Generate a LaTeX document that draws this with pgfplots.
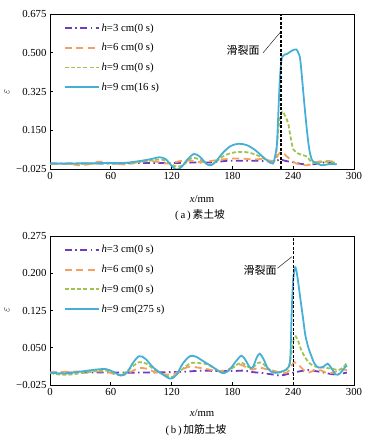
\documentclass[border=0pt]{standalone}
\usepackage{pgfplots}
\pgfplotsset{compat=1.18}
\usepackage{fontspec}
\setmainfont{Liberation Serif}
\newfontfamily\cjk{Noto Sans CJK SC}
\definecolor{cblue}{RGB}{70,175,215}
\definecolor{corange}{RGB}{245,160,95}
\definecolor{cgreen}{RGB}{160,195,80}
\definecolor{cpurple}{RGB}{110,60,190}
\pgfplotsset{
  every axis/.append style={
    scale only axis, width=304bp, anchor=south west,
    xmin=0, xmax=300, axis line style={black, line width=0.8pt},
    xtick={0,60,120,180,240,300},
    xticklabels={0,60,120,180,240,300},
    tick align=inside, xtick pos=left, ytick pos=left,
    major tick length=3bp, tick style={black, line width=0.7pt},
    ticklabel style={font=\fontsize{10.8}{12}\selectfont},
    legend style={draw=none, fill=none, font=\fontsize{10.8}{12}\selectfont,
      at={(rel axis cs:0.035,0.965)}, anchor=north west, row sep=6.8bp},
    legend cell align=left,
    legend image code/.code={\draw[#1] (0bp,0bp) -- (34bp,0bp);},
  },
  purp/.style={color=cpurple, line width=1.8pt, dash pattern=on 7bp off 3.5bp on 1.5bp off 3.5bp},
  oran/.style={color=corange, line width=1.8pt, dash pattern=on 7bp off 4.5bp},
  gree/.style={color=cgreen, line width=1.8pt, dash pattern=on 4bp off 2.2bp},
  blu/.style={color=cblue, line width=1.8pt},
}
\begin{document}
\begin{tikzpicture}
\useasboundingbox (0,0) rectangle (381bp,445bp);
% ---------- (a) ----------
\begin{axis}[at={(50bp,276bp)}, height=155bp,
  ymin=-0.025, ymax=0.675,
  ytick={-0.025,0.15,0.325,0.5,0.675},
  yticklabels={−0.025,0.150,0.325,0.500,0.675}]
\addplot[purp, smooth, tension=0.5] coordinates {
(0,0.000)(30,0.000)(60,0.000)(90,0.002)(120,0.002)(140,0.004)(160,0.005)(175,0.012)(190,0.012)(205,0.012)(215,0.010)(222,0.010)(227,0.018)(232,0.012)(240,0.005)(248,-0.002)(256,-0.006)(262,-0.002)(270,0.004)(277,0.003)(283,0.002)};
\addlegendentry{\textit{h}=3 cm(0 s)}
\addplot[oran, smooth, tension=0.5] coordinates {
(0,-0.002)(10,-0.003)(20,-0.002)(28,-0.008)(38,-0.004)(48,0.008)(55,0.005)(65,-0.002)(75,-0.004)(85,0.004)(95,0.012)(105,0.008)(113,0.000)(120,0.002)(130,0.012)(140,0.012)(150,0.005)(160,0.012)(170,0.018)(180,0.022)(190,0.022)(200,0.018)(210,0.020)(218,0.012)(222,0.015)(226,0.045)(229,0.052)(233,0.035)(238,0.015)(243,0.000)(250,-0.008)(256,-0.006)(262,0.005)(270,0.012)(277,0.010)(283,0.006)};
\addlegendentry{\textit{h}=6 cm(0 s)}
\addplot[gree, smooth, tension=0.5] coordinates {
(0,-0.002)(30,-0.001)(60,0.000)(80,0.003)(95,0.010)(108,0.018)(114,0.012)(120,-0.005)(126,-0.015)(132,-0.005)(138,0.020)(143,0.025)(150,0.012)(157,-0.008)(162,0.000)(170,0.030)(178,0.046)(186,0.052)(195,0.050)(203,0.040)(210,0.025)(216,0.008)(220,0.000)(223,0.040)(226,0.180)(229,0.235)(232,0.215)(235,0.182)(237,0.130)(240,0.065)(245,0.045)(250,0.037)(254,0.030)(257,0.010)(260,0.002)(265,0.005)(270,0.008)(277,0.006)(283,0.004)};
\addlegendentry{\textit{h}=9 cm(0 s)}
\addplot[blu, smooth, tension=0.5] coordinates {
(0,0.000)(20,0.000)(40,0.001)(60,0.002)(75,0.003)(90,0.012)(100,0.020)(108,0.028)(114,0.020)(120,-0.010)(125,-0.028)(130,-0.015)(135,0.015)(142,0.043)(148,0.030)(154,0.000)(158,-0.008)(163,0.005)(170,0.045)(178,0.078)(186,0.089)(194,0.083)(202,0.062)(210,0.030)(216,0.008)(220,0.000)(222,0.030)(224,0.092)(226,0.300)(227,0.392)(229,0.480)(234,0.495)(239,0.510)(243,0.515)(245,0.500)(247,0.467)(250,0.320)(252,0.220)(254.5,0.110)(256.5,0.048)(259,0.012)(263,0.002)(268,-0.008)(273,-0.005)(278,-0.002)(283,-0.004)};
\addlegendentry{\textit{h}=9 cm(16 s)}
\addplot[black, line width=1.4pt, dash pattern=on 3bp off 1.5bp, forget plot] coordinates {(228,-0.025)(228,0.675)};
\draw[black, line width=0.4pt] (axis cs:210.3,0.50) -- (axis cs:227.7,0.595);
\node[font=\cjk\fontsize{11}{12}\selectfont] at (axis cs:190.5,0.51) {滑裂面};
\end{axis}
% ---------- (b) ----------
\begin{axis}[at={(50bp,60bp)}, height=149bp,
  ymin=-0.025, ymax=0.275,
  ytick={-0.025,0.05,0.125,0.2,0.275},
  yticklabels={−0.025,0.050,0.125,0.200,0.275}]
\addplot[purp, smooth, tension=0.5] coordinates {
(0,0.000)(30,0.000)(60,0.000)(90,0.000)(120,0.001)(135,0.002)(150,0.004)(165,0.003)(180,0.003)(192,0.004)(200,0.001)(210,-0.001)(220,-0.004)(228,-0.006)(236,-0.002)(245,0.002)(255,0.005)(265,0.002)(275,-0.002)(282,-0.004)(288,-0.002)(293,0.000)};
\addlegendentry{\textit{h}=3 cm(0 s)}
\addplot[oran, smooth, tension=0.5] coordinates {
(0,0.000)(20,0.002)(40,0.002)(55,0.002)(65,-0.004)(72,-0.005)(80,0.002)(88,0.009)(95,0.008)(105,0.000)(115,-0.004)(122,-0.003)(130,0.006)(138,0.012)(146,0.010)(155,0.007)(165,0.003)(172,0.004)(180,0.010)(188,0.016)(194,0.010)(200,0.006)(207,0.010)(213,0.007)(220,0.004)(228,0.000)(234,0.000)(238,0.012)(241,0.021)(245,0.016)(250,0.006)(255,0.000)(262,0.006)(268,0.004)(275,-0.002)(282,0.002)(288,0.006)(293,0.005)};
\addlegendentry{\textit{h}=6 cm(0 s)}
\addplot[gree, smooth, tension=0.5] coordinates {
(0,-0.001)(10,-0.004)(20,-0.004)(35,0.000)(50,0.004)(58,0.003)(66,-0.004)(72,-0.003)(80,0.010)(88,0.021)(95,0.018)(103,0.006)(112,-0.004)(120,-0.009)(127,0.000)(134,0.013)(141,0.020)(148,0.019)(155,0.017)(162,0.009)(170,0.000)(176,0.003)(183,0.014)(189,0.020)(195,0.012)(200,0.010)(205,0.019)(209,0.020)(214,0.010)(220,0.002)(226,0.000)(230,0.004)(235,0.008)(238,0.035)(241,0.072)(244,0.068)(248,0.045)(252,0.030)(256,0.019)(262,0.012)(270,0.010)(278,0.008)(285,0.005)(290,0.012)(293,0.020)};
\addlegendentry{\textit{h}=9 cm(0 s)}
\addplot[blu, smooth, tension=0.5] coordinates {
(0,0.000)(15,-0.002)(30,0.002)(45,0.006)(55,0.007)(62,0.002)(70,-0.006)(76,0.000)(82,0.020)(88,0.033)(94,0.028)(102,0.010)(110,-0.002)(116,-0.010)(120,-0.012)(125,-0.004)(131,0.018)(138,0.033)(144,0.032)(152,0.022)(160,0.012)(167,0.002)(172,-0.001)(178,0.008)(184,0.024)(189,0.034)(193,0.025)(197,0.011)(200,0.010)(204,0.030)(207,0.038)(211,0.026)(215,0.008)(220,0.000)(225,0.000)(230,0.003)(234,0.008)(237,0.025)(238.5,0.120)(240,0.187)(242,0.212)(244,0.195)(247,0.150)(250,0.105)(252,0.075)(255,0.050)(258,0.033)(261,0.018)(265,0.010)(270,0.012)(274,0.018)(278,0.008)(282,-0.004)(286,-0.002)(290,0.008)(293,0.014)};
\addlegendentry{\textit{h}=9 cm(275 s)}
\addplot[black, line width=1.4pt, dash pattern=on 3bp off 1.5bp, forget plot] coordinates {(240,-0.025)(240,0.275)};
\draw[black, line width=0.4pt] (axis cs:224.4,0.210) -- (axis cs:238.5,0.233);
\node[font=\cjk\fontsize{11}{12}\selectfont] at (axis cs:207.3,0.205) {滑裂面};
\end{axis}
% labels and captions
\node[font=\fontsize{10.8}{12}\selectfont] at (202bp,246bp) {\textit{x}/mm};
\node[font=\fontsize{10.8}{12}\selectfont] at (200bp,230bp) {(\,a\,)\,{\cjk 素土坡}};
\node[font=\fontsize{10.8}{12}\selectfont] at (202bp,32bp) {\textit{x}/mm};
\node[font=\fontsize{10.8}{12}\selectfont] at (196bp,15bp) {(\,b\,)\,{\cjk 加筋土坡}};
\node[rotate=90, font=\fontsize{11}{12}\selectfont] at (7bp,353bp) {$\varepsilon$};
\node[rotate=90, font=\fontsize{11}{12}\selectfont] at (7bp,135bp) {$\varepsilon$};
\end{tikzpicture}
\end{document}
